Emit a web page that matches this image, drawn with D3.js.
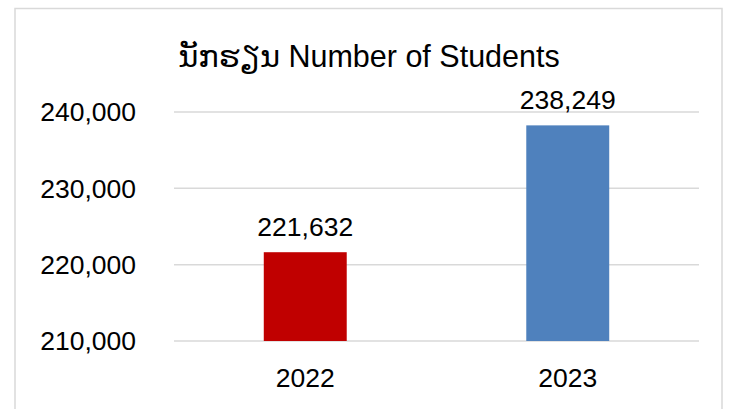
<!DOCTYPE html>
<html>
<head>
<meta charset="utf-8">
<script src="https://cdn.jsdelivr.net/npm/d3@7"></script>
<style>
  body { margin: 0; background: #fff; }
  text { font-family: "Liberation Sans", Arial, "DejaVu Sans", sans-serif; fill: #000; }
</style>
</head>
<body>
<div id="chart"></div>
<script>
var years = ["2022", "2023"];
var students = [221632, 238249];
var barColors = ["#C00000", "#4F81BD"];
var yTicks = [210000, 220000, 230000, 240000];

var width = 731, height = 409;
var margin = {top: 112, right: 32, bottom: 68, left: 174};

var svg = d3.select("#chart")
    .append("svg")
      .attr("width", width)
      .attr("height", height);

// outer frame
svg.append("rect")
    .attr("x", 15)
    .attr("y", 8.5)
    .attr("width", 707)
    .attr("height", 420)
    .attr("fill", "none")
    .attr("stroke", "#d9d9d9")
    .attr("stroke-width", 1.5);

var x = d3.scaleBand()
    .domain(years)
    .range([margin.left, width - margin.right]);

var y = d3.scaleLinear()
    .domain([210000, 240000])
    .range([height - margin.bottom, margin.top]);

// gridlines
svg.append("g")
    .selectAll("line")
    .data(yTicks)
  .enter().append("line")
    .attr("x1", margin.left)
    .attr("x2", width - margin.right)
    .attr("y1", function(d) { return y(d); })
    .attr("y2", function(d) { return y(d); })
    .attr("stroke", "#d9d9d9")
    .attr("stroke-width", 1.5);

// y axis labels
var fmt = d3.format(",");
svg.append("g")
    .selectAll("text")
    .data(yTicks)
  .enter().append("text")
    .attr("x", 136)
    .attr("y", function(d) { return y(d); })
    .attr("dy", "0.35em")
    .attr("text-anchor", "end")
    .style("font-size", "26.5px")
    .text(function(d) { return fmt(d); });

var barW = x.bandwidth() * 0.316;

svg.selectAll(".bar")
    .data(years)
  .enter().append("rect")
    .attr("class", "bar")
    .attr("x", function(d) { return x(d) + x.bandwidth() / 2 - barW / 2; })
    .attr("width", barW)
    .attr("y", function(d, i) { return y(students[i]); })
    .attr("height", function(d, i) { return y(210000) - y(students[i]); })
    .attr("fill", function(d, i) { return barColors[i]; });

// value labels
svg.selectAll(".val")
    .data(years)
  .enter().append("text")
    .attr("class", "val")
    .attr("x", function(d) { return x(d) + x.bandwidth() / 2; })
    .attr("y", function(d, i) { return y(students[i]) - 16; })
    .attr("text-anchor", "middle")
    .style("font-size", "26.5px")
    .text(function(d, i) { return fmt(students[i]); });

// x labels
svg.selectAll(".xl")
    .data(years)
  .enter().append("text")
    .attr("class", "xl")
    .attr("x", function(d) { return x(d) + x.bandwidth() / 2; })
    .attr("y", 387)
    .attr("text-anchor", "middle")
    .style("font-size", "26.5px")
    .text(function(d) { return d; });

svg.append("text")
    .attr("x", 369)
    .attr("y", 67)
    .attr("text-anchor", "middle")
    .style("font-size", "30.5px")
    .text("ນັກຮຽນ Number of Students");
</script>
</body>
</html>
